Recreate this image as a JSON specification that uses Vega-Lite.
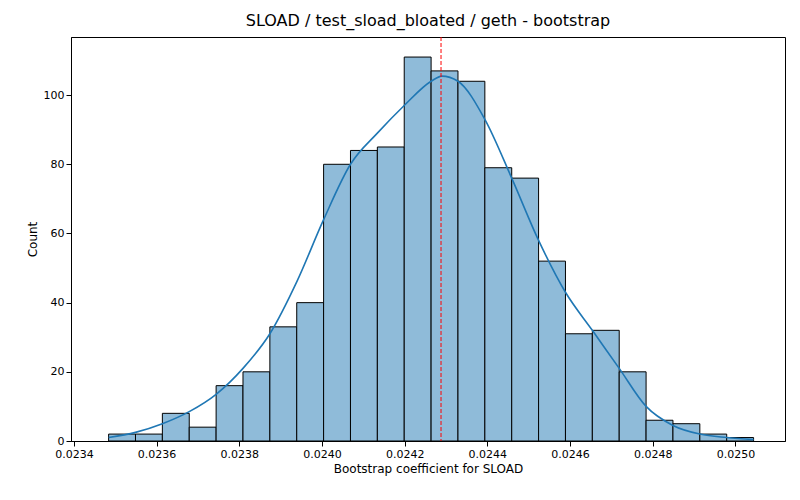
{
  "$schema": "https://vega.github.io/schema/vega-lite/v6.json",
  "width": 714,
  "height": 404,
  "autosize": "none",
  "padding": {"left": 71, "top": 37, "right": 15, "bottom": 59},
  "title": {"text": "SLOAD / test_sload_bloated / geth - bootstrap", "fontSize": 16, "fontWeight": "normal", "font": "DejaVu Sans", "offset": 8},
  "config": {
    "font": "DejaVu Sans",
    "view": {"stroke": "black"},
    "axis": {"grid": false, "labelFontSize": 11, "titleFontSize": 12, "titleFontWeight": "normal", "labelColor": "black", "titleColor": "black", "domainColor": "black", "tickColor": "black"}
  },
  "datasets": {
    "bins": [
      {"start": 0.023484, "end": 0.023549, "count": 2},
      {"start": 0.023549, "end": 0.023614, "count": 2},
      {"start": 0.023614, "end": 0.023679, "count": 8},
      {"start": 0.023679, "end": 0.023744, "count": 4},
      {"start": 0.023744, "end": 0.023809, "count": 16},
      {"start": 0.023809, "end": 0.023874, "count": 20},
      {"start": 0.023874, "end": 0.023939, "count": 33},
      {"start": 0.023939, "end": 0.024004, "count": 40},
      {"start": 0.024004, "end": 0.024069, "count": 80},
      {"start": 0.024069, "end": 0.024134, "count": 84},
      {"start": 0.024134, "end": 0.024199, "count": 85},
      {"start": 0.024199, "end": 0.024264, "count": 111},
      {"start": 0.024264, "end": 0.024329, "count": 107},
      {"start": 0.024329, "end": 0.024394, "count": 104},
      {"start": 0.024394, "end": 0.024459, "count": 79},
      {"start": 0.024459, "end": 0.024524, "count": 76},
      {"start": 0.024524, "end": 0.024589, "count": 52},
      {"start": 0.024589, "end": 0.024654, "count": 31},
      {"start": 0.024654, "end": 0.024719, "count": 32},
      {"start": 0.024719, "end": 0.024784, "count": 20},
      {"start": 0.024784, "end": 0.024849, "count": 6},
      {"start": 0.024849, "end": 0.024914, "count": 5},
      {"start": 0.024914, "end": 0.024979, "count": 2},
      {"start": 0.024979, "end": 0.025044, "count": 1}
    ],
    "kde": [
      {"x": 0.023484, "y": 1},
      {"x": 0.023549, "y": 2.5},
      {"x": 0.023614, "y": 5},
      {"x": 0.023679, "y": 8.5},
      {"x": 0.023744, "y": 13.5},
      {"x": 0.023809, "y": 21},
      {"x": 0.023874, "y": 31},
      {"x": 0.023939, "y": 46},
      {"x": 0.024004, "y": 64},
      {"x": 0.024069, "y": 80},
      {"x": 0.024134, "y": 89},
      {"x": 0.024199, "y": 97},
      {"x": 0.024264, "y": 104},
      {"x": 0.02429, "y": 105.5},
      {"x": 0.024329, "y": 104},
      {"x": 0.024394, "y": 93},
      {"x": 0.024459, "y": 76},
      {"x": 0.024524, "y": 58},
      {"x": 0.024589, "y": 43},
      {"x": 0.024654, "y": 32},
      {"x": 0.024719, "y": 21},
      {"x": 0.024784, "y": 10},
      {"x": 0.024849, "y": 4.5},
      {"x": 0.024914, "y": 2},
      {"x": 0.024979, "y": 1},
      {"x": 0.025044, "y": 0.4}
    ],
    "mean": [{"x": 0.024288}]
  },
  "layer": [
    {
      "data": {"name": "bins"},
      "mark": {"type": "rect", "fill": "#8fbbd9", "stroke": "black", "strokeWidth": 1},
      "encoding": {
        "x": {"field": "start", "type": "quantitative", "scale": {"domain": [0.023393, 0.02512], "nice": false, "zero": false},
          "axis": {"title": "Bootstrap coefficient for SLOAD", "values": [0.0234, 0.0236, 0.0238, 0.024, 0.0242, 0.0244, 0.0246, 0.0248, 0.025], "format": ".4f"}},
        "x2": {"field": "end"},
        "y": {"field": "count", "type": "quantitative", "scale": {"domain": [0, 116.8], "nice": false},
          "axis": {"title": "Count", "values": [0, 20, 40, 60, 80, 100]}},
        "y2": {"datum": 0}
      }
    },
    {
      "data": {"name": "kde"},
      "mark": {"type": "line", "color": "#1f77b4", "strokeWidth": 1.6, "interpolate": "monotone"},
      "encoding": {
        "x": {"field": "x", "type": "quantitative"},
        "y": {"field": "y", "type": "quantitative"}
      }
    },
    {
      "data": {"name": "mean"},
      "mark": {"type": "rule", "color": "red", "strokeDash": [4, 2], "strokeWidth": 1},
      "encoding": {"x": {"field": "x", "type": "quantitative"}}
    }
  ]
}
